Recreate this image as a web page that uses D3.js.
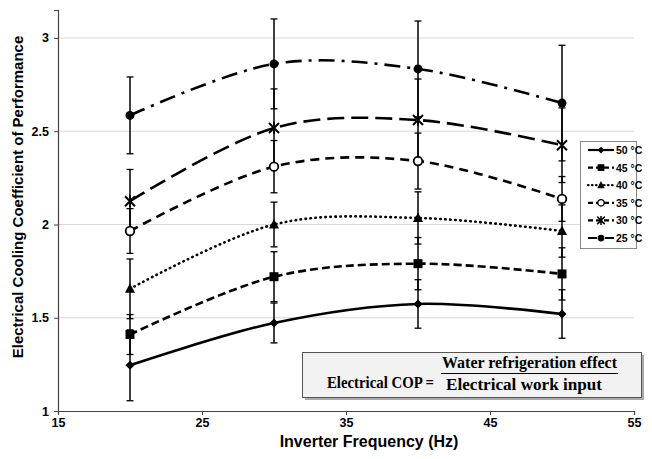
<!DOCTYPE html>
<html><head><meta charset="utf-8">
<script src="https://cdn.jsdelivr.net/npm/d3@7"></script>
<style>body{margin:0;background:#fff}svg{display:block}</style>
</head><body>
<svg id="chart" width="652" height="459"></svg>
<script>
const frequencies = [20, 30, 40, 50];
const seriesLabels = ["50 °C", "45 °C", "40 °C", "35 °C", "30 °C", "25 °C"];
const cop50 = [1.245, 1.472, 1.574, 1.52];
const cop45 = [1.41, 1.72, 1.79, 1.735];
const cop40 = [1.655, 2.0, 2.035, 1.965];
const cop35 = [1.965, 2.31, 2.34, 2.137];
const cop30 = [2.125, 2.517, 2.56, 2.425];
const cop25 = [2.585, 2.861, 2.834, 2.651];
const err50 = [0.19, 0.107, 0.13, 0.13];
const err45 = [0.107, 0.134, 0.14, 0.14];
const err40 = [0.16, 0.12, 0.14, 0.14];
const err35 = [0.12, 0.14, 0.15, 0.12];
const err30 = [0.17, 0.21, 0.22, 0.2];
const err25 = [0.206, 0.241, 0.257, 0.31];
const xTicks = [15, 25, 35, 45, 55];
const yTicks = [1, 1.5, 2, 2.5, 3];

const values = [cop50, cop45, cop40, cop35, cop30, cop25];
const errors = [err50, err45, err40, err35, err30, err25];
const markers = ["diamond", "square", "triangle", "openCircle", "star", "circle"];
const dashes = [null, "8,4", "0.5,4.5", "9,6", "17,7", "16,7,3,7"];

const svg = d3.select("#chart");
const x = d3.scaleLinear().domain([15, 55]).range([58, 634]);
const y = d3.scaleLinear().domain([1, 3.15]).range([411, 10]);
const font = "'Liberation Sans', Arial, sans-serif";

// gridlines
svg.append("g").selectAll("line").data(yTicks.filter(d => d > 1)).join("line")
  .attr("x1", x(15)).attr("x2", x(55)).attr("y1", d => y(d)).attr("y2", d => y(d))
  .attr("stroke", "#d9d9d9").attr("stroke-width", 1);

// axes
const yAxis = svg.append("g").attr("transform", `translate(${x(15)},0)`)
  .call(d3.axisLeft(y).tickValues(yTicks).tickSize(4).tickFormat(d3.format("")));
const xAxis = svg.append("g").attr("transform", `translate(0,${y(1)})`)
  .call(d3.axisBottom(x).tickValues(xTicks).tickSize(4).tickFormat(d3.format("")));
[yAxis, xAxis].forEach(a => {
  a.select(".domain").attr("stroke", "#444").attr("stroke-width", 1.2);
  a.selectAll(".tick line").attr("stroke", "#444");
  a.selectAll("text").attr("font-family", font).attr("font-weight", "bold")
    .attr("font-size", 12.5).attr("fill", "#000");
});
yAxis.selectAll("text").attr("x", -9);
xAxis.selectAll("text").attr("y", 7);

// axis titles
svg.append("text").attr("x", 369).attr("y", 447).attr("text-anchor", "middle")
  .attr("font-family", font).attr("font-weight", "bold").attr("font-size", 16)
  .text("Inverter Frequency (Hz)");
svg.append("text").attr("transform", "translate(23,197) rotate(-90)").attr("text-anchor", "middle")
  .attr("font-family", font).attr("font-weight", "bold").attr("font-size", 15)
  .text("Electrical Cooling Coefficient of Performance");

function drawMarker(g, type, cx, cy) {
  if (type === "circle") g.append("circle").attr("cx", cx).attr("cy", cy).attr("r", 4.5).attr("fill", "#000");
  else if (type === "openCircle") g.append("circle").attr("cx", cx).attr("cy", cy).attr("r", 4.3).attr("fill", "#fff").attr("stroke", "#000").attr("stroke-width", 1.8);
  else if (type === "square") g.append("rect").attr("x", cx - 4.5).attr("y", cy - 4.5).attr("width", 9).attr("height", 9).attr("fill", "#000");
  else if (type === "triangle") g.append("path").attr("d", `M${cx},${cy - 5.5}L${cx + 5},${cy + 4}L${cx - 5},${cy + 4}Z`).attr("fill", "#000");
  else if (type === "diamond") g.append("path").attr("d", `M${cx},${cy - 4.5}L${cx + 4.5},${cy}L${cx},${cy + 4.5}L${cx - 4.5},${cy}Z`).attr("fill", "#000");
  else if (type === "star") g.append("path").attr("d", `M${cx - 5},${cy - 5}L${cx + 5},${cy + 5}M${cx - 5},${cy + 5}L${cx + 5},${cy - 5}M${cx},${cy - 6}L${cx},${cy + 6}`).attr("stroke", "#000").attr("stroke-width", 2).attr("fill", "none");
}

// error bars
const eb = svg.append("g");
values.forEach((vals, si) => {
  vals.forEach((v, i) => {
    const e = errors[si][i], cx = x(frequencies[i]);
    eb.append("line").attr("x1", cx).attr("x2", cx).attr("y1", y(v + e)).attr("y2", y(v - e))
      .attr("stroke", "#000").attr("stroke-width", 1.5);
    [v + e, v - e].forEach(c => eb.append("line").attr("x1", cx - 3.5).attr("x2", cx + 3.5)
      .attr("y1", y(c)).attr("y2", y(c)).attr("stroke", "#000").attr("stroke-width", 1.3));
  });
});

// lines
const line = d3.line().x(d => x(d[0])).y(d => y(d[1])).curve(d3.curveCardinal.tension(0));
values.forEach((vals, si) => {
  const pts = frequencies.map((f, i) => [f, vals[i]]);
  svg.append("path").attr("d", line(pts)).attr("fill", "none").attr("stroke", "#000")
    .attr("stroke-width", 2.6).attr("stroke-dasharray", dashes[si])
    .attr("stroke-linecap", si === 2 ? "round" : "butt");
  const mg = svg.append("g");
  pts.forEach(p => drawMarker(mg, markers[si], x(p[0]), y(p[1])));
});

// legend
const lg = svg.append("g");
lg.append("rect").attr("x", 580.5).attr("y", 141.5).attr("width", 56).attr("height", 107)
  .attr("fill", "#fff").attr("stroke", "#888").attr("stroke-width", 1);
seriesLabels.forEach((lab, si) => {
  const yy = 150 + si * 17.6;
  lg.append("line").attr("x1", 588).attr("x2", 614).attr("y1", yy).attr("y2", yy)
    .attr("stroke", "#000").attr("stroke-width", 2.2).attr("stroke-dasharray", dashes[si] ? (si === 2 ? "0.5,3.5" : (si === 5 ? "9,3,2,3" : "5,3")) : null)
    .attr("stroke-linecap", si === 2 ? "round" : "butt");
  const mg = lg.append("g").attr("transform", `translate(601,${yy}) scale(0.75)`);
  drawMarker(mg, markers[si], 0, 0);
  lg.append("text").attr("x", 616).attr("y", yy + 4).attr("font-family", font)
    .attr("font-weight", "bold").attr("font-size", 10.5).text(lab);
});

// formula box
const fb = svg.append("g");
fb.append("rect").attr("x", 305).attr("y", 355).attr("width", 339).attr("height", 45).attr("fill", "#aaa");
fb.append("rect").attr("x", 302.5).attr("y", 352.5).attr("width", 339).attr("height", 45)
  .attr("fill", "#f2f2f2").attr("stroke", "#555").attr("stroke-width", 1);
const serif = "'Liberation Serif', 'DejaVu Serif', serif";
fb.append("text").attr("x", 327).attr("y", 388).attr("font-family", serif).attr("font-weight", "bold")
  .attr("font-size", 16).attr("textLength", 107).attr("lengthAdjust", "spacingAndGlyphs").text("Electrical COP =");
fb.append("text").attr("x", 442).attr("y", 368).attr("font-family", serif).attr("font-weight", "bold")
  .attr("font-size", 16).attr("textLength", 175).attr("lengthAdjust", "spacingAndGlyphs").text("Water refrigeration effect");
fb.append("line").attr("x1", 441).attr("x2", 618).attr("y1", 373.5).attr("y2", 373.5).attr("stroke", "#000").attr("stroke-width", 1.2);
fb.append("text").attr("x", 446).attr("y", 390).attr("font-family", serif).attr("font-weight", "bold")
  .attr("font-size", 16).attr("textLength", 156).attr("lengthAdjust", "spacingAndGlyphs").text("Electrical work input");
</script>
</body></html>
